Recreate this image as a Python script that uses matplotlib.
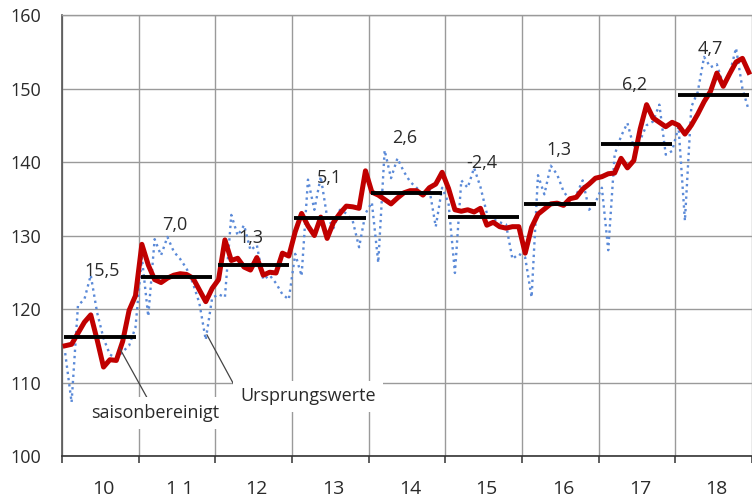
import matplotlib
matplotlib.use("Agg")
import matplotlib.pyplot as plt
import numpy as np

plt.rcParams['font.family'] = ['Open Sans', 'DejaVu Sans']

years = list(range(2010, 2019))
year_labels = ['10', '1 1', '12', '13', '14', '15', '16', '17', '18']
growth_labels = ['15,5', '7,0', '1,3', '5,1', '2,6', '-2,4', '1,3', '6,2', '4,7']
annual_avg = [116.2, 124.4, 126.0, 132.4, 135.8, 132.5, 134.3, 142.5, 149.1]

# seasonally adjusted, monthly 2010-2018
sa_2010 = [115.0, 115.2, 116.7, 118.2, 119.2, 115.8, 112.1, 113.1, 113.0, 115.6, 119.8, 121.8]
sa_2011 = [128.8, 126.0, 124.0, 123.6, 124.2, 124.6, 124.8, 124.7, 124.2, 122.6, 121.0, 122.8]
sa_2012 = [124.0, 129.4, 126.6, 126.9, 125.7, 125.3, 127.0, 124.6, 125.0, 124.9, 127.6, 127.2]
sa_2013 = [130.5, 133.0, 131.3, 130.0, 132.5, 129.6, 131.8, 133.0, 134.0, 133.9, 133.7, 138.8]
sa_2014 = [135.9, 135.5, 134.9, 134.3, 135.1, 135.8, 136.1, 136.1, 135.5, 136.5, 137.0, 138.6]
sa_2015 = [136.4, 133.5, 133.3, 133.5, 133.2, 133.7, 131.4, 131.8, 131.2, 131.0, 131.2, 131.2]
sa_2016 = [127.6, 131.1, 132.9, 133.6, 134.3, 134.4, 134.1, 135.0, 135.2, 136.3, 137.0, 137.8]
sa_2017 = [138.0, 138.4, 138.5, 140.5, 139.2, 140.2, 144.5, 147.8, 146.0, 145.4, 144.8, 145.4]
sa_2018 = [145.0, 143.8, 145.0, 146.5, 148.2, 149.6, 152.1, 150.3, 152.0, 153.6, 154.1, 152.2]

# original values, monthly 2010-2018
orig_2010 = [114.0, 107.3, 120.5, 121.3, 124.6, 119.5, 116.0, 113.8, 113.3, 114.2, 115.0, 117.5]
orig_2011 = [127.0, 119.0, 129.5, 127.3, 129.8, 127.8, 126.8, 125.5, 123.5, 120.8, 115.8, 121.5]
orig_2012 = [122.0, 121.6, 132.8, 130.0, 131.4, 128.0, 128.7, 124.0, 124.6, 123.5, 122.0, 121.3]
orig_2013 = [127.5, 124.5, 137.6, 133.5, 138.0, 132.5, 131.0, 133.5, 133.0, 132.0, 128.4, 133.0]
orig_2014 = [134.5, 126.3, 141.6, 137.8, 140.5, 138.7, 137.3, 136.5, 135.6, 136.3, 131.2, 136.5]
orig_2015 = [134.4, 124.9, 137.5, 136.5, 139.2, 136.6, 133.0, 132.2, 131.8, 131.5, 126.8, 127.5]
orig_2016 = [127.0, 121.6, 138.2, 135.6, 139.5, 138.3, 136.0, 134.8, 135.5, 137.5, 133.5, 134.5]
orig_2017 = [136.5, 128.0, 141.0, 143.5, 145.3, 142.0, 143.0, 145.0, 145.5, 147.8, 141.0, 141.5]
orig_2018 = [144.8, 132.0, 147.5, 149.5, 154.3, 152.9, 153.3, 150.5, 152.0, 155.5, 150.0, 147.0]

sa = sa_2010 + sa_2011 + sa_2012 + sa_2013 + sa_2014 + sa_2015 + sa_2016 + sa_2017 + sa_2018
orig = (orig_2010 + orig_2011 + orig_2012 + orig_2013 + orig_2014 + orig_2015
        + orig_2016 + orig_2017 + orig_2018)

# where the growth labels sit (x in years, y in index points)
label_pos = [(2010.52, 125.2), (2011.47, 131.4), (2012.47, 129.7), (2013.49, 137.8),
             (2014.47, 143.3), (2015.48, 139.9), (2016.48, 141.6), (2017.47, 150.5),
             (2018.46, 155.4)]

t = np.array([y + (m + 0.5) / 12 for y in years for m in range(12)])

fig = plt.figure(figsize=(7.52, 4.98), dpi=100)
ax = fig.add_axes([62 / 752, 42 / 498, 690 / 752, 441 / 498])

ax.plot(t, orig, color='#5b8ad8', lw=1.7, ls=':', zorder=3)
ax.plot(t, sa, color='#c00000', lw=3.6, zorder=4, solid_joinstyle='round')
for y, avg in zip(years, annual_avg):
    ax.hlines(avg, y + 0.03, y + 0.96, color='black', lw=2.8, zorder=5)

for (x, y), s in zip(label_pos, growth_labels):
    ax.text(x, y, s, ha='center', va='center', fontsize=13, color='#2a2a2a', zorder=6)

ax.annotate('saisonbereinigt', xy=(2010.75, 114.7), xytext=(2011.22, 105.85),
            ha='center', va='center', fontsize=13, color='#2a2a2a', zorder=6,
            bbox=dict(fc='white', ec='none', pad=5),
            arrowprops=dict(arrowstyle='-', color='#444444', lw=0.9, shrinkA=0, shrinkB=0))
ax.annotate('Ursprungswerte', xy=(2011.89, 116.5), xytext=(2013.21, 108.1),
            ha='center', va='center', fontsize=13, color='#2a2a2a', zorder=6,
            bbox=dict(fc='white', ec='none', pad=5),
            arrowprops=dict(arrowstyle='-', color='#444444', lw=0.9, shrinkA=0, shrinkB=0,
                            relpos=(0.0, 0.5)))

ax.set_xlim(2010, 2018.908)
ax.set_ylim(100, 160)
ax.set_xticks(range(2010, 2020))
ax.set_xticklabels([])
ax.set_xticks([y + 0.54 for y in years], minor=True)
ax.set_xticklabels(year_labels, minor=True)
ax.set_yticks(range(100, 161, 10))
ax.tick_params(axis='x', which='major', length=5, width=1.1, color='#333333', direction='out')
ax.tick_params(axis='x', which='minor', length=0, pad=17, labelsize=14, labelcolor='#2a2a2a')
ax.tick_params(axis='y', length=0, pad=15, labelsize=13, labelcolor='#2a2a2a')

ax.set_axisbelow(True)
ax.grid(True, which='major', color='#9a9a9a', lw=1.0)
ax.spines['right'].set_visible(False)
ax.spines['top'].set_color('#9a9a9a')
ax.spines['top'].set_linewidth(1.0)
ax.spines['left'].set_color('#555555')
ax.spines['left'].set_linewidth(1.2)
ax.spines['bottom'].set_color('#333333')
ax.spines['bottom'].set_linewidth(1.2)

fig.savefig('out.png', dpi=100)
